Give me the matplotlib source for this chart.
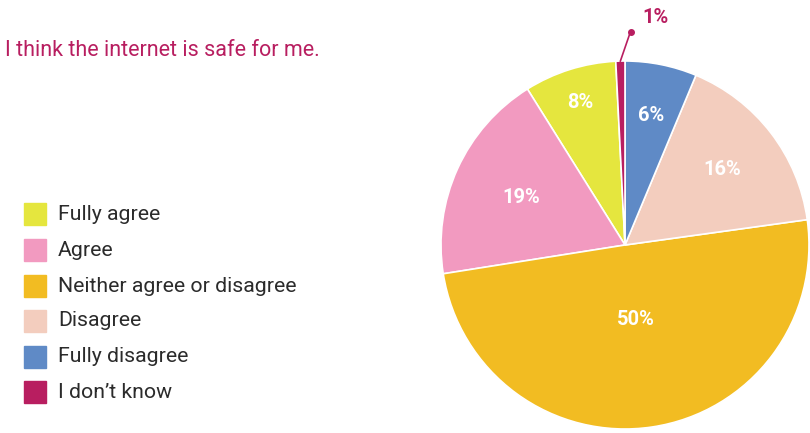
import numpy as np
import matplotlib.pyplot as plt
from matplotlib.patches import Rectangle

plt.rcParams['font.family'] = ['Roboto', 'DejaVu Sans']

# datos (orden de la leyenda)
categorias = ['Fully agree', 'Agree', 'Neither agree or disagree', 'Disagree',
              'Fully disagree', 'I don\u2019t know']
valores = [8.1, 18.6, 49.7, 16.5, 6.3, 0.8]
etiquetas = ['8%', '19%', '50%', '16%', '6%', '1%']
colores = ['#E5E63E', '#F29AC0', '#F2BC22', '#F3CDBE', '#5F8AC6', '#B81E60']
titulo = 'I think the internet is safe for me.'

W, H = 810, 433
fig = plt.figure(figsize=(W / 100, H / 100), dpi=100)

# pie
cx, cy, r = 625, 245, 184
ax = fig.add_axes([(cx - r) / W, (H - cy - r) / H, 2 * r / W, 2 * r / H])
inicio = 90 + 360 * valores[-1] / sum(valores)
wedges, _ = ax.pie(valores, colors=colores, startangle=inicio, counterclock=True,
                   radius=1, wedgeprops=dict(edgecolor='white', linewidth=1.2))
ax.set_xlim(-1, 1)
ax.set_ylim(-1, 1)
ax.set_aspect('equal')
ax.axis('off')

# distancia de cada etiqueta al centro
dist = [0.81, 0.62, 0.41, 0.67, 0.72]
for w, lab, d in zip(wedges[:-1], etiquetas[:-1], dist):
    ang = np.deg2rad((w.theta1 + w.theta2) / 2)
    ax.text(d * np.cos(ang), d * np.sin(ang), lab, ha='center', va='center',
            color='white', fontsize=14.5, fontweight='bold')

# 1% con linea
w = wedges[-1]
ang = np.deg2rad((w.theta1 + w.theta2) / 2)
x0, y0 = np.cos(ang), np.sin(ang)
ax.plot([x0, 0.03], [y0, 1.16], color=colores[-1], lw=1.2, clip_on=False)
ax.plot([0.03], [1.16], 'o', color=colores[-1], ms=4, clip_on=False)
ax.text(0.165, 1.235, etiquetas[-1], ha='center', va='center', color=colores[-1],
        fontsize=14.5, fontweight='bold')

# titulo
fig.text(5 / W, 1 - 50 / H, titulo, ha='left', va='center', color='#B81E60',
         fontsize=15.5)

# leyenda
y_leg = [214, 250, 286, 321, 357, 392]
for cat, col, yy in zip(categorias, colores, y_leg):
    fig.patches.append(Rectangle((24 / W, 1 - (yy + 11) / H), 22 / W, 22 / H,
                                 transform=fig.transFigure, color=col))
    fig.text(58 / W, 1 - yy / H, cat, ha='left', va='center', color='#2b2b2b',
             fontsize=15.3)

fig.savefig('out.png', dpi=100)
